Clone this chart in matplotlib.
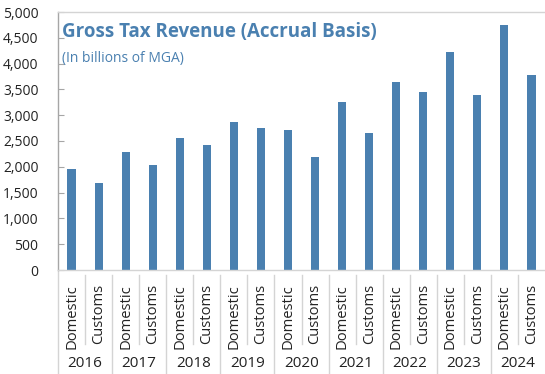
import matplotlib.pyplot as plt
import numpy as np

plt.rcParams['font.family'] = ['Open Sans', 'DejaVu Sans']

years = ['2016', '2017', '2018', '2019', '2020', '2021', '2022', '2023', '2024']
kinds = ['Domestic', 'Customs']
domestic = [1950, 2280, 2560, 2860, 2710, 3250, 3640, 4230, 4750]
customs = [1680, 2040, 2420, 2750, 2190, 2650, 3450, 3395, 3780]
yticks = [0, 500, 1000, 1500, 2000, 2500, 3000, 3500, 4000, 4500, 5000]

values = [v for pair in zip(domestic, customs) for v in pair]
labels = kinds * len(years)
x = np.arange(len(values))

BLUE = '#4a80b0'
GRID = '#d4d4d4'

W, H = 545, 374
fig = plt.figure(figsize=(W / 100, H / 100), dpi=100)
ax = fig.add_axes([58 / W, 1 - 270 / H, 1 - 58 / W, 258 / H])

ax.bar(x, values, width=0.3, color=BLUE, zorder=2)
ax.set_xlim(-0.5, len(values) - 0.5)
ax.set_ylim(0, 5000)
ax.set_yticks(yticks)
ax.set_yticklabels([f'{t:,}' for t in yticks])
ax.tick_params(axis='y', direction='in', length=4, color='#a6a6a6',
               labelsize=10, labelcolor='#222222', pad=14)

ax.set_xticks(x)
ax.set_xticklabels(labels, rotation=90, fontsize=10.6, color='#222222', va='top')
ax.tick_params(axis='x', length=0, pad=10)

ax.spines['right'].set_visible(False)
ax.spines['top'].set_color(GRID)
ax.spines['bottom'].set_color(GRID)
ax.spines['left'].set_color('#a6a6a6')
for s in ['top', 'bottom', 'left']:
    ax.spines[s].set_linewidth(1.0)

# category separators below the axis
trans = ax.get_xaxis_transform()
for i in range(len(values) - 1):
    xs = i + 0.5
    bottom = -0.285 if i % 2 == 0 else -0.41
    ax.plot([xs, xs], [-0.02, bottom], transform=trans, color=GRID,
            lw=1.0, clip_on=False)
ax.plot([-0.5, -0.5], [0, -0.41], transform=trans, color=GRID,
        lw=1.0, clip_on=False)

for j, yr in enumerate(years):
    ax.text(2 * j + 0.5, -0.362, yr, transform=trans, ha='center',
            va='center', fontsize=11, color='#222222')

ax.text(0.008, 0.96, 'Gross Tax Revenue (Accrual Basis)', transform=ax.transAxes,
        fontsize=13.5, fontweight='bold', color=BLUE, va='top', ha='left')
ax.text(0.008, 0.85, '(In billions of MGA)', transform=ax.transAxes,
        fontsize=10, color=BLUE, va='top', ha='left')

fig.savefig('out.png', dpi=100)
